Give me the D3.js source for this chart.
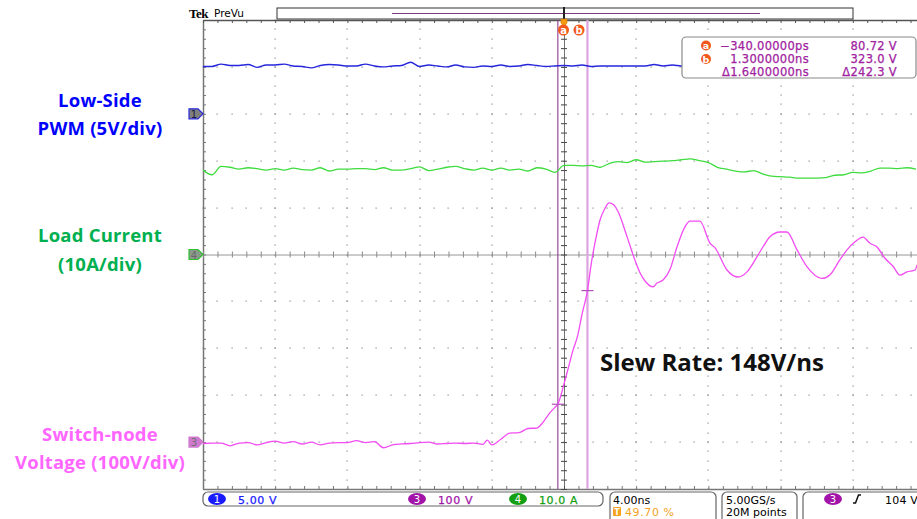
<!DOCTYPE html>
<html>
<head>
<meta charset="utf-8">
<script src="https://cdn.jsdelivr.net/npm/d3@7/dist/d3.min.js"></script>
<style>
  body { margin: 0; background: #fff; }
  svg { display: block; }
</style>
</head>
<body>
<svg id="scope"></svg>
<script>
'use strict';

var W = 917, H = 519;

// ---- data read off the scope shot ----
// ch1 / ch4 sample instants (ns), one every 0.5 ns
var sampleTimes = d3.range(-20, 20, 0.5);

// ch1 low-side PWM (V)
var pwmVolts = [5.05, 5.05, 5.3, 5.15, 5.15, 5.25, 4.95, 5.2, 5.2, 5.3, 5.1, 5.05, 4.9, 5.15, 5.25, 5.2, 5.1, 5.1, 5.3, 5.1,
                5.0, 5.1, 5.15, 5.5, 5.05, 5.2, 5.1, 5.0, 5.2, 5.0, 4.95, 5.1, 5.05, 5.2, 5.05, 5.1, 5.25, 5.15, 5.05, 5.1,
                5.15, 5.1, 5.2, 5.05, 5.1, 5.1, 5.1, 5.1, 5.1, 5.1, 5.25, 5.1, 5.2, 5.1, 5.1, 5.1, 5.25, 5.05, 5.2, 5.25,
                5.2, 5.15, 5.05, 5.2, 5.1, 5.0, 5.1, 5.2, 5.05, 5.15, 5.2, 5.1, 4.95, 5.1, 5.2, 5.05, 5.15, 5.1, 5.2, 5.1];

// ch4 load current (A)
var loadAmps = [18.0, 17.0, 18.8, 18.6, 18.2, 18.5, 18.3, 18.0, 18.3, 18.0, 18.4, 18.1, 18.0, 18.5, 17.8, 18.2, 18.2, 18.3, 18.3, 18.1,
                18.5, 18.0, 18.0, 18.3, 18.7, 17.9, 18.2, 18.6, 18.8, 18.3, 18.0, 18.4, 18.0, 18.4, 18.0, 18.2, 17.8, 18.5, 18.2, 17.5,
                19.0, 19.0, 18.9, 19.0, 18.6, 19.4, 19.8, 19.6, 20.2, 19.7, 19.8, 19.9, 20.0, 20.2, 20.4, 20.0, 19.6, 18.6, 18.2, 17.8,
                17.6, 17.9, 17.2, 16.7, 16.6, 16.5, 16.3, 16.3, 16.3, 16.4, 16.9, 17.0, 17.5, 17.4, 17.8, 18.4, 18.4, 18.3, 18.5, 18.2];

// ch3 switch node (ns, V)
var swTimes = [-20, -19.5, -19, -18.5, -18, -17.5, -17, -16.5, -16, -15.5, -15, -14.5, -14, -13.5, -13, -12.5, -12, -11.5, -11, -10.5,
               -10, -9.5, -9, -8.5, -8, -7.5, -7, -6.5, -6, -5.5, -5, -4.5, -4.25, -4, -3.5, -3, -2.5, -2, -1.5, -1.25,
               -1, -0.75, -0.5, -0.34, 0, 0.25, 0.5, 0.75, 1.0, 1.3, 1.5, 1.75, 2.0, 2.25, 2.5, 2.75, 3.0, 3.5, 3.93, 4.21,
               4.5, 4.93, 5.15, 5.5, 5.87, 6.26, 6.7, 6.98, 7.53, 8.09, 8.37, 9.03, 9.64, 10.14, 10.69, 11.02, 11.41, 11.97, 12.35, 12.91,
               13.46, 14.29, 14.74, 15.29, 15.68, 16.12, 16.57, 16.95, 17.34, 17.78, 18.23, 18.61, 19.0, 19.45, 19.56];
var swVolts = [-3, -2, -2, -8, -2, -1, -6, -1, 2, -2, 1, -4, 0, -6, -2, -1, -1, 3, -1, 1,
               -12, -6, -4, -3, -1, 0, -4, -3, -2, -3, -2, -5, 4, -6, 6, 19, 20, 29, 30, 38,
               51, 64, 74, 81, 124, 160, 196, 226, 273, 323, 378, 431, 474, 497, 510, 506, 491, 437, 388, 361,
               343, 331, 339, 346, 368, 416, 459, 471, 471, 424, 414, 367, 352, 363, 395, 416, 438, 448, 448, 410,
               374, 349, 357, 389, 410, 427, 437, 424, 416, 392, 375, 356, 363, 367, 378];

// cursors
var cursorTimes = [-0.34, 1.3];
var cursorVolts = [80.72, 323.0];
var cursorNames = ['a', 'b'];
var readoutTimes = ['\u2212340.00000ps', '1.3000000ns', '\u03941.6400000ns'];
var readoutVolts = ['80.72 V', '323.0 V', '\u0394242.3 V'];

// channel settings
var chNumbers = ['1', '3', '4'];
var chScales = ['5.00 V', '100 V', '10.0 A'];
var chColors = ['#1a1aff', '#a214a8', '#12a012'];

var blue = '#2626dc', green = '#3fdc3f', pink = '#f24cf2';

// ---- scales ----
var xDiv = d3.scaleLinear().domain([-5, 5]).range([203, 925]);
var yDiv = d3.scaleLinear().domain([-5, 5]).range([489, 20]);
var x = d3.scaleLinear().domain([-20, 20]).range([203, 925]);   // 4 ns/div
var yCh1 = function (v) { return yDiv(v / 5 + 3); };            // 5 V/div, +3 div
var yCh4 = function (a) { return yDiv(a / 10); };               // 10 A/div, 0 div
var yCh3 = function (v) { return yDiv(v / 100 - 4); };          // 100 V/div, -4 div

var svg = d3.select('#scope').attr('width', W).attr('height', H)
  .style('font-family', '"DejaVu Sans", sans-serif');

svg.append('defs').append('clipPath').attr('id', 'plotClip')
  .append('rect').attr('x', 203).attr('y', 20).attr('width', 714).attr('height', 469);

// ---- graticule ----
var grid = svg.append('g');
var minor = d3.range(-5, 5.001, 0.2);
var dots = [];
[-4, -3, -2, -1, 1, 2, 3, 4].forEach(function (i) {
  minor.forEach(function (j) {
    dots.push([xDiv(i), yDiv(j)]);
    dots.push([xDiv(j), yDiv(i)]);
  });
});
grid.selectAll('rect.dot').data(dots).enter().append('rect')
  .attr('class', 'dot')
  .attr('x', function (d) { return Math.round(d[0]) - 0.5; })
  .attr('y', function (d) { return Math.round(d[1]) - 0.5; })
  .attr('width', 1.2).attr('height', 1.2)
  .attr('fill', '#8a8a8a');

function tickAxis(axis, tx, ty, dashed, color) {
  var g = grid.append('g').attr('transform', 'translate(' + tx + ',' + ty + ')')
    .call(axis.tickValues(minor).tickSizeOuter(0).tickFormat(''));
  g.selectAll('.tick line').attr('stroke', color);
  g.select('.domain').attr('stroke', color).attr('stroke-width', dashed ? 1 : 1.5)
    .attr('stroke-dasharray', dashed ? '1,1' : null);
  return g;
}
// frame edges
tickAxis(d3.axisRight(yDiv).tickSize(3), 203, 0, false, '#777');
tickAxis(d3.axisBottom(xDiv).tickSize(3), 0, 20, false, '#555');
tickAxis(d3.axisTop(xDiv).tickSize(3), 0, 489, false, '#777');
// center cross
tickAxis(d3.axisBottom(xDiv).tickSize(3), 0, yDiv(0), true, '#888');
tickAxis(d3.axisTop(xDiv).tickSize(3), 0, yDiv(0), true, '#888');
tickAxis(d3.axisRight(yDiv).tickSize(3), xDiv(0), 0, true, '#444');
tickAxis(d3.axisLeft(yDiv).tickSize(3), xDiv(0), 0, true, '#444');

// ---- cursors ----
svg.append('line').attr('x1', x(cursorTimes[0])).attr('x2', x(cursorTimes[0]))
  .attr('y1', 20).attr('y2', 489).attr('stroke', '#8c3a90').attr('stroke-width', 1.1);
svg.append('line').attr('x1', x(cursorTimes[1])).attr('x2', x(cursorTimes[1]))
  .attr('y1', 20).attr('y2', 489).attr('stroke', '#dda2e0').attr('stroke-width', 2.2);

// ---- traces ----
var traces = svg.append('g').attr('clip-path', 'url(#plotClip)');
var lineCh1 = d3.line().x(function (d, i) { return x(sampleTimes[i]); }).y(function (d) { return yCh1(d); }).curve(d3.curveMonotoneX);
var lineCh4 = d3.line().x(function (d, i) { return x(sampleTimes[i]); }).y(function (d) { return yCh4(d); }).curve(d3.curveMonotoneX);
var lineCh3 = d3.line().x(function (d, i) { return x(swTimes[i]); }).y(function (d) { return yCh3(d); }).curve(d3.curveMonotoneX);

traces.append('path').datum(pwmVolts).attr('d', lineCh1)
  .attr('fill', 'none').attr('stroke', blue).attr('stroke-width', 1.4);
traces.append('path').datum(loadAmps).attr('d', lineCh4)
  .attr('fill', 'none').attr('stroke', green).attr('stroke-width', 1.3);
traces.append('path').datum(swVolts).attr('d', lineCh3)
  .attr('fill', 'none').attr('stroke', pink).attr('stroke-width', 1.3);

// cursor crossing marks
svg.selectAll('line.cross').data(cursorTimes).enter().append('line')
  .attr('class', 'cross')
  .attr('x1', function (d) { return x(d) - 6; })
  .attr('x2', function (d) { return x(d) + 6; })
  .attr('y1', function (d, i) { return yCh3(cursorVolts[i]); })
  .attr('y2', function (d, i) { return yCh3(cursorVolts[i]); })
  .attr('stroke', '#b050b8').attr('stroke-width', 1.2);

// ---- channel ground markers ----
var markers = [
  { n: '1', y: yCh1(0), fill: '#7f7f7f', stroke: '#2a2ae0', text: '#1a1a40' },
  { n: '4', y: yCh4(0), fill: '#8a9a8a', stroke: '#30c030', text: '#6a6a6a' },
  { n: '3', y: yCh3(0), fill: '#d07ad0', stroke: '#d07ad0', text: '#707070' }
];
var mk = svg.selectAll('g.mk').data(markers).enter().append('g')
  .attr('transform', function (d) { return 'translate(189,' + d.y + ')'; });
mk.append('path').attr('d', 'M0,-5 H9 L14,0 L9,5 H0 Z')
  .attr('fill', function (d) { return d.fill; })
  .attr('stroke', function (d) { return d.stroke; }).attr('stroke-width', 1.2);
mk.append('text').attr('x', 5).attr('y', 4).attr('text-anchor', 'middle')
  .attr('font-size', 10).attr('fill', function (d) { return d.text; })
  .text(function (d) { return d.n; });

// ---- top bar ----
svg.append('text').attr('x', 189).attr('y', 18).attr('font-size', 13).attr('font-weight', 'bold')
  .attr('font-family', '"Liberation Serif", serif').attr('letter-spacing', -0.5).text('Tek');
svg.append('text').attr('x', 214).attr('y', 17).attr('font-size', 10.5).text('PreVu');
svg.append('rect').attr('x', 277).attr('y', 8).attr('width', 576).attr('height', 11)
  .attr('fill', '#fff').attr('stroke', '#333').attr('stroke-width', 1);
svg.append('line').attr('x1', 392).attr('x2', 760).attr('y1', 13.5).attr('y2', 13.5)
  .attr('stroke', '#7c3c80').attr('stroke-width', 1);
svg.append('line').attr('x1', xDiv(0)).attr('x2', xDiv(0)).attr('y1', 7).attr('y2', 21)
  .attr('stroke', '#222').attr('stroke-width', 2);
svg.append('path').attr('d', 'M' + (xDiv(0) - 3) + ',19 h6 v4 l-3,4 l-3,-4 Z')
  .attr('fill', '#f39a12').attr('stroke', '#d07a00').attr('stroke-width', 0.6);

var badges = svg.selectAll('g.cur').data(cursorNames).enter().append('g')
  .attr('transform', function (d, i) { return 'translate(' + (i === 0 ? 563.5 : 579) + ',30)'; });
badges.append('circle').attr('r', 5.5).attr('fill', '#f2571b');
badges.append('text').attr('y', 3.5).attr('text-anchor', 'middle').attr('font-size', 10)
  .attr('font-weight', 'bold').attr('fill', '#fff').text(function (d) { return d; });

// ---- cursor readout ----
var ro = svg.append('g');
ro.append('rect').attr('x', 682).attr('y', 37).attr('width', 234).attr('height', 41).attr('rx', 4)
  .attr('fill', '#fff').attr('stroke', '#8a8a8a').attr('stroke-width', 1.2);
var rowY = [49.5, 63, 76];
ro.selectAll('g.rb').data(cursorNames).enter().append('g')
  .attr('transform', function (d, i) { return 'translate(706,' + (rowY[i] - 4) + ')'; })
  .each(function (d) {
    var g = d3.select(this);
    g.append('circle').attr('r', 5).attr('fill', '#f2571b');
    g.append('text').attr('y', 3.5).attr('text-anchor', 'middle').attr('font-size', 9.5)
      .attr('font-weight', 'bold').attr('fill', '#fff').text(d);
  });
ro.selectAll('text.rt').data(readoutTimes).enter().append('text')
  .attr('x', 809).attr('y', function (d, i) { return rowY[i]; })
  .attr('text-anchor', 'end').attr('font-size', 11.5).attr('fill', '#a0229f').attr('letter-spacing', 0.3)
  .attr('stroke', '#a0229f').attr('stroke-width', 0.25)
  .text(function (d) { return d; });
ro.selectAll('text.rv').data(readoutVolts).enter().append('text')
  .attr('x', 897).attr('y', function (d, i) { return rowY[i]; })
  .attr('text-anchor', 'end').attr('font-size', 11.5).attr('fill', '#a0229f').attr('letter-spacing', 0.3)
  .attr('stroke', '#a0229f').attr('stroke-width', 0.25)
  .text(function (d) { return d; });

// ---- bottom status bar ----
var sb = svg.append('g');
function box(x0, w, h) {
  sb.append('rect').attr('x', x0).attr('y', 492).attr('width', w).attr('height', h).attr('rx', 5)
    .attr('fill', '#fff').attr('stroke', '#666').attr('stroke-width', 1.2);
}
box(203, 400, 14);
box(610, 106, 32);
box(722, 75, 32);
box(803, 130, 32);

var chX = [217, 417, 518];
chNumbers.forEach(function (n, i) {
  sb.append('ellipse').attr('cx', chX[i]).attr('cy', 499).attr('rx', 9).attr('ry', 6).attr('fill', chColors[i]);
  sb.append('text').attr('x', chX[i]).attr('y', 503).attr('text-anchor', 'middle').attr('font-size', 10)
    .attr('fill', '#fff').text(n);
  sb.append('text').attr('x', chX[i] + 21).attr('y', 503.5).attr('font-size', 11).attr('letter-spacing', 0.6)
    .attr('fill', chColors[i]).attr('stroke', chColors[i]).attr('stroke-width', 0.25).text(chScales[i]);
});
sb.append('text').attr('x', 613).attr('y', 503.5).attr('font-size', 11).text('4.00ns');
sb.append('rect').attr('x', 613).attr('y', 507).attr('width', 8).attr('height', 9).attr('rx', 1).attr('fill', '#f5a31e');
sb.append('text').attr('x', 617).attr('y', 515).attr('text-anchor', 'middle').attr('font-size', 8)
  .attr('font-weight', 'bold').attr('fill', '#fff').text('T');
sb.append('text').attr('x', 625).attr('y', 516).attr('font-size', 11).attr('letter-spacing', 0.6)
  .attr('fill', '#f5a31e').text('49.70 %');
sb.append('text').attr('x', 726).attr('y', 503.5).attr('font-size', 11).text('5.00GS/s');
sb.append('text').attr('x', 726).attr('y', 516).attr('font-size', 11).text('20M points');
sb.append('ellipse').attr('cx', 833).attr('cy', 499).attr('rx', 9).attr('ry', 6).attr('fill', chColors[1]);
sb.append('text').attr('x', 833).attr('y', 503).attr('text-anchor', 'middle').attr('font-size', 10)
  .attr('fill', '#fff').text('3');
sb.append('path').attr('d', 'M853,503 h2.5 l3,-8 h2.5').attr('fill', 'none').attr('stroke', '#111').attr('stroke-width', 1.5);
sb.append('text').attr('x', 885).attr('y', 503.5).attr('font-size', 11).attr('letter-spacing', 0.2).text('104 V');

// ---- annotations ----
var labels = [
  { lines: ['Low-Side', 'PWM (5V/div)'], y: [107, 135], color: '#0000ff' },
  { lines: ['Load Current', '(10A/div)'], y: [242, 271], color: '#00b050' },
  { lines: ['Switch-node', 'Voltage (100V/div)'], y: [441, 469], color: '#ff66ff' }
];
labels.forEach(function (l) {
  l.lines.forEach(function (s, i) {
    svg.append('text').attr('x', 100).attr('y', l.y[i]).attr('text-anchor', 'middle')
      .attr('font-family', '"Open Sans", sans-serif').attr('font-weight', 'bold').attr('font-size', 18.5)
      .attr('letter-spacing', 0.2).attr('fill', l.color).text(s);
  });
});
svg.append('text').attr('x', 600).attr('y', 371).attr('font-family', '"Open Sans", sans-serif')
  .attr('font-weight', 'bold').attr('font-size', 24).attr('fill', '#111').text('Slew Rate: 148V/ns');
</script>
</body>
</html>
